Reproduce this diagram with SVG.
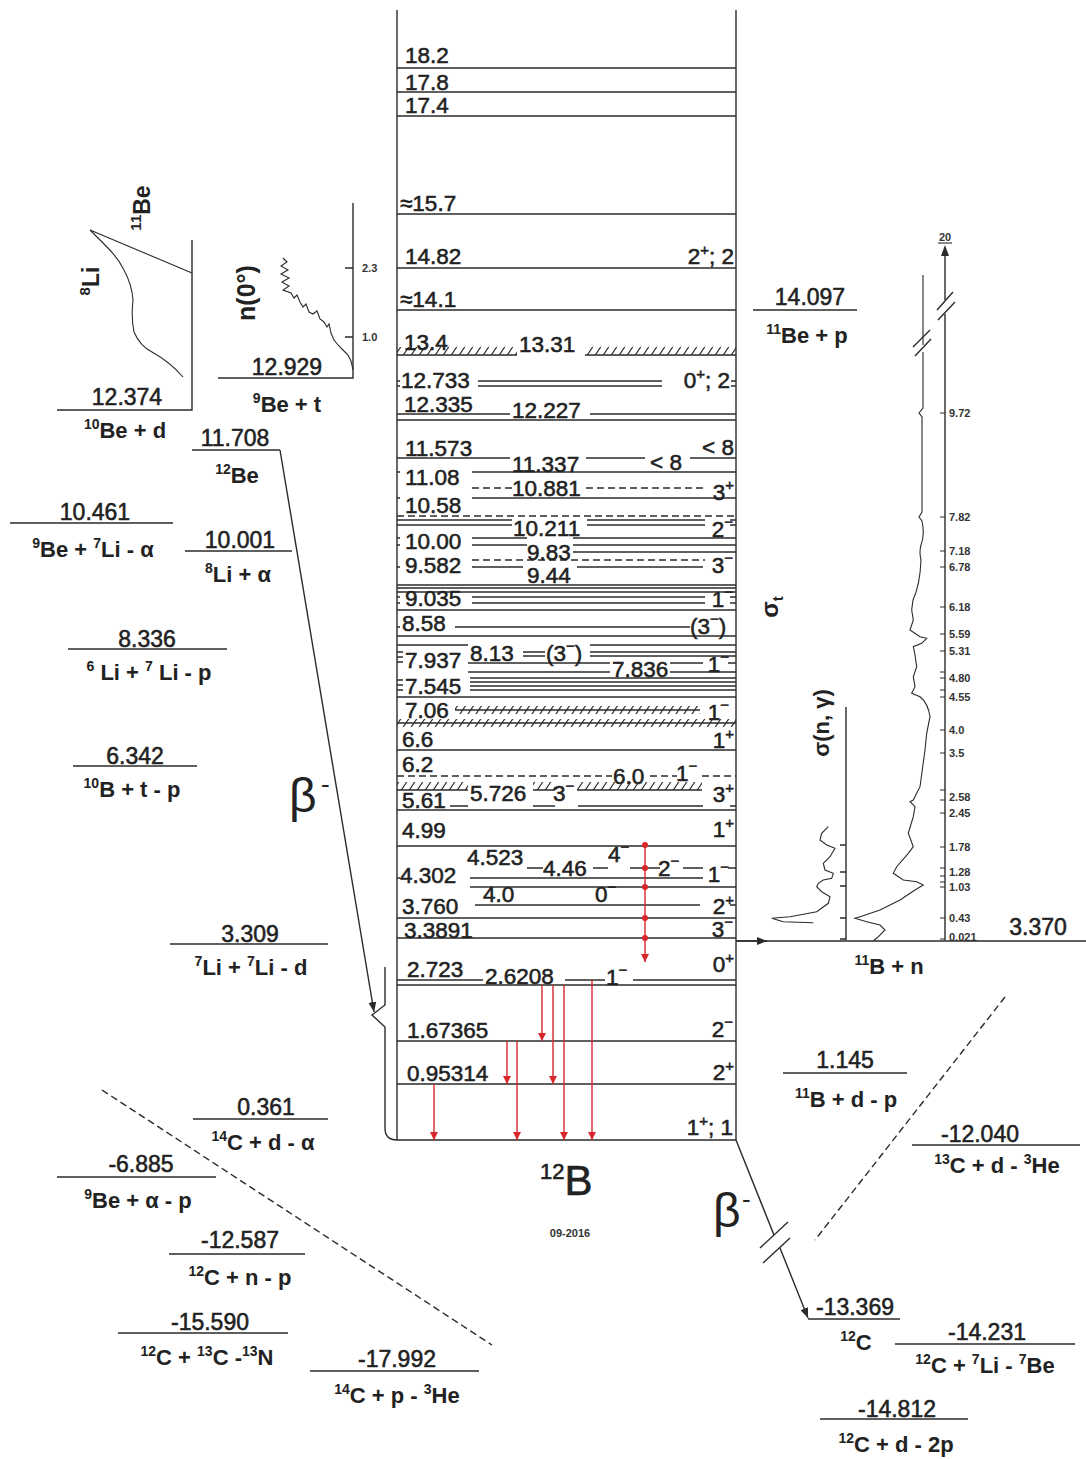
<svg xmlns="http://www.w3.org/2000/svg" width="1086" height="1459" viewBox="0 0 1086 1459">
<defs>
<style>
.ln{stroke:#2b2b2b;stroke-width:1.4;fill:none}
.th{stroke:#2b2b2b;stroke-width:1.1;fill:none}
.ds{stroke:#2b2b2b;stroke-width:1.4;fill:none;stroke-dasharray:7 4}
.lv{font-family:"Liberation Sans",Arial,sans-serif;font-size:22.5px;fill:#222;stroke:#222;stroke-width:0.55}
.sp{font-family:"Liberation Sans",Arial,sans-serif;font-size:22.5px;fill:#222;stroke:#222;stroke-width:0.55;text-anchor:end}
.rx{font-family:"Liberation Sans",Arial,sans-serif;font-size:22px;font-weight:bold;fill:#222;text-anchor:middle}
.nm{font-family:"Liberation Sans",Arial,sans-serif;font-size:23px;fill:#222;stroke:#222;stroke-width:0.55;text-anchor:middle}
.tk{font-family:"Liberation Sans",Arial,sans-serif;font-size:11px;font-weight:bold;fill:#333}
.ax{font-family:"Liberation Sans",Arial,sans-serif;font-weight:bold;fill:#222;text-anchor:middle}
.red{stroke:#d8262b;stroke-width:1.4;fill:none}
.hb{fill:url(#hatch)}
</style>
<pattern id="hatch" patternUnits="userSpaceOnUse" width="8" height="12"><path d="M0,12 L8,0 M-1,1.5 L1,-1.5 M7,13.5 L9,10.5" stroke="#2b2b2b" stroke-width="1.2"/></pattern>
<marker id="ra" viewBox="0 0 8 8" refX="8" refY="4" markerWidth="8" markerHeight="8" markerUnits="userSpaceOnUse" orient="auto"><path d="M0,0 L8,4 L0,8 z" fill="#d8262b"/></marker>
<marker id="ba" viewBox="0 0 10 8" refX="10" refY="4" markerWidth="10" markerHeight="8" markerUnits="userSpaceOnUse" orient="auto"><path d="M0,0 L10,4 L0,8 z" fill="#2b2b2b"/></marker>
</defs>
<rect width="1086" height="1459" fill="#ffffff"/>

<g id="column">
<path class="ln" d="M397,10 V1140 M736,10 V1140 M385,967 V1005 L372,1015 L385,1027 V1128 Q385,1140 397,1140 H736"/>
<path class="ln" d="M397,68H736 M397,92H736 M397,116H736 M397,214H736 M397,268H736 M397,310H736
M397,355H517 M585,355H736
M478,381H662 M478,386H662 M397,381H400 M397,386H400 M731,381H736 M731,386H736
M397,414H510 M590,414H736 M397,420H736
M397,458H510 M586,458H645 M690,458H736
M397,472H400 M472,472H736
M397,498H400 M472,498H736
M397,520H512 M587,520H705 M397,525H512 M587,525H705 M730,520H736 M730,525H736
M397,538H400 M472,538H527 M573,538H736 M397,545H400 M472,545H527 M573,545H736
M573,552H736
M397,567H400 M472,567H523 M577,567H703
M397,585H736 M397,588H736 M397,592H736
M397,597H400 M472,597H705 M397,603H400 M472,603H705 M730,597H736 M730,603H736
M397,610H736
M397,627H400 M455,627H690
M397,636H736
M397,645H468 M590,645H736
M523,652H545 M590,652H736 M523,656H545 M590,656H736
M397,652H403 M397,657H403 M397,662H403
M468,663H610 M670,663H703 M728,663H736
M468,672H610 M670,672H736
M470,678H736 M470,682H736 M470,686H736 M470,690H736 M397,680H403 M397,685H403 M397,690H403
M397,697H736
M455,710H700 M397,723H736
M397,750H736
M397,790H468 M533,790H555 M577,790H702
M450,806H468 M533,806H555 M578,806H703 M730,806H736
M397,810H736
M397,846H736
M527,868H543 M593,868H608 M630,868H660 M683,868H703 M728,868H736
M397,878H400 M470,878H703
M470,887H736
M475,905H700 M730,905H736
M397,918H736
M397,938H736
M397,980H483 M565,980H605 M633,980H736
M397,985H736
M397,1041H736 M397,1084H736"/>
<path class="ds" d="M472,488H512 M586,488H705 M397,516H736 M472,560H705 M397,776H612 M650,776H677 M702,776H736"/>
<rect class="hb" x="397" y="347" width="120" height="8"/>
<rect class="hb" x="585" y="347" width="151" height="8"/>
<rect class="hb" x="455" y="706" width="245" height="8"/>
<rect class="hb" x="397" y="719" width="339" height="8"/>
<rect class="hb" x="397" y="782" width="71" height="8"/>
<rect class="hb" x="533" y="782" width="22" height="8"/>
<rect class="hb" x="577" y="782" width="125" height="8"/>
</g>

<g id="level-labels">
<text class="lv" x="405" y="63">18.2</text>
<text class="lv" x="405" y="90">17.8</text>
<text class="lv" x="405" y="113">17.4</text>
<text class="lv" x="400" y="211">≈15.7</text>
<text class="lv" x="405" y="264">14.82</text>
<text class="sp" x="734" y="264">2<tspan font-size="15" dy="-9">+</tspan><tspan dy="9">;  2</tspan></text>
<text class="lv" x="400" y="307">≈14.1</text>
<text class="lv" x="404" y="350">13.4</text>
<text class="lv" x="519" y="352">13.31</text>
<text class="lv" x="401" y="388">12.733</text>
<text class="sp" x="730" y="388">0<tspan font-size="15" dy="-9">+</tspan><tspan dy="9">;  2</tspan></text>
<text class="lv" x="404" y="412">12.335</text>
<text class="lv" x="512" y="418">12.227</text>
<text class="lv" x="405" y="456">11.573</text>
<text class="lv" x="512" y="472">11.337</text>
<text class="lv" x="650" y="470">&lt; 8</text>
<text class="sp" x="734" y="455">&lt; 8</text>
<text class="lv" x="405" y="485">11.08</text>
<text class="lv" x="512" y="496">10.881</text>
<text class="sp" x="734" y="500">3<tspan font-size="15" dy="-10">+</tspan></text>
<text class="lv" x="405" y="513">10.58</text>
<text class="lv" x="513" y="536">10.211</text>
<text class="sp" x="733" y="537">2<tspan font-size="15" dy="-10">−</tspan></text>
<text class="lv" x="405" y="549">10.00</text>
<text class="lv" x="527" y="560">9.83</text>
<text class="lv" x="405" y="573">9.582</text>
<text class="lv" x="527" y="583">9.44</text>
<text class="sp" x="733" y="573">3<tspan font-size="15" dy="-10">−</tspan></text>
<text class="lv" x="405" y="606">9.035</text>
<text class="sp" x="733" y="607">1<tspan font-size="15" dy="-10">−</tspan></text>
<text class="lv" x="402" y="631">8.58</text>
<text class="lv" x="690" y="634">(3<tspan font-size="15" dy="-10">−</tspan><tspan dy="10">)</tspan></text>
<text class="lv" x="470" y="661">8.13</text>
<text class="lv" x="546" y="661">(3<tspan font-size="15" dy="-10">−</tspan><tspan dy="10">)</tspan></text>
<text class="lv" x="405" y="668">7.937</text>
<text class="lv" x="612" y="677">7.836</text>
<text class="sp" x="729" y="672">1<tspan font-size="15" dy="-10">−</tspan></text>
<text class="lv" x="405" y="694">7.545</text>
<text class="lv" x="405" y="718">7.06</text>
<text class="sp" x="729" y="720">1<tspan font-size="15" dy="-10">−</tspan></text>
<text class="lv" x="402" y="747">6.6</text>
<text class="sp" x="734" y="748">1<tspan font-size="15" dy="-9">+</tspan></text>
<text class="lv" x="402" y="772">6.2</text>
<text class="lv" x="613" y="784">6.0</text>
<text class="lv" x="676" y="781">1<tspan font-size="15" dy="-10">−</tspan></text>
<text class="lv" x="470" y="801">5.726</text>
<text class="lv" x="553" y="801">3<tspan font-size="15" dy="-10">−</tspan></text>
<text class="sp" x="734" y="802">3<tspan font-size="15" dy="-9">+</tspan></text>
<text class="lv" x="402" y="808">5.61</text>
<text class="lv" x="402" y="838">4.99</text>
<text class="sp" x="734" y="837">1<tspan font-size="15" dy="-9">+</tspan></text>
<text class="lv" x="467" y="865">4.523</text>
<text class="lv" x="543" y="876">4.46</text>
<text class="lv" x="608" y="862">4<tspan font-size="15" dy="-10">−</tspan></text>
<text class="lv" x="658" y="876">2<tspan font-size="15" dy="-10">−</tspan></text>
<text class="sp" x="729" y="882">1<tspan font-size="15" dy="-10">−</tspan></text>
<text class="lv" x="400" y="883">4.302</text>
<text class="lv" x="483" y="902">4.0</text>
<text class="lv" x="595" y="902">0<tspan font-size="15" dy="-10">−</tspan></text>
<text class="lv" x="402" y="914">3.760</text>
<text class="sp" x="734" y="914">2<tspan font-size="15" dy="-9">+</tspan></text>
<text class="lv" x="404" y="938">3.3891</text>
<text class="sp" x="733" y="937">3<tspan font-size="15" dy="-10">−</tspan></text>
<text class="lv" x="407" y="977">2.723</text>
<text class="lv" x="485" y="984">2.6208</text>
<text class="lv" x="606" y="985">1<tspan font-size="15" dy="-10">−</tspan></text>
<text class="sp" x="734" y="972">0<tspan font-size="15" dy="-9">+</tspan></text>
<text class="lv" x="407" y="1038">1.67365</text>
<text class="sp" x="733" y="1037">2<tspan font-size="15" dy="-10">−</tspan></text>
<text class="lv" x="407" y="1081">0.95314</text>
<text class="sp" x="734" y="1080">2<tspan font-size="15" dy="-9">+</tspan></text>
<text class="sp" x="733" y="1135">1<tspan font-size="15" dy="-9">+</tspan><tspan dy="9">;  1</tspan></text>
</g>

<g id="gamma-transitions">
<path class="red" d="M645,845 V962" marker-end="url(#ra)"/>
<g fill="#d8262b"><circle cx="645" cy="845" r="3"/><circle cx="645" cy="868" r="3"/><circle cx="645" cy="887" r="3"/><circle cx="645" cy="918" r="3"/><circle cx="645" cy="938" r="3"/></g>
<path class="red" d="M542,985 V1041" marker-end="url(#ra)"/>
<path class="red" d="M553,985 V1084" marker-end="url(#ra)"/>
<path class="red" d="M564,985 V1140" marker-end="url(#ra)"/>
<path class="red" d="M592,980 V1140" marker-end="url(#ra)"/>
<path class="red" d="M507,1041 V1084" marker-end="url(#ra)"/>
<path class="red" d="M517,1041 V1140" marker-end="url(#ra)"/>
<path class="red" d="M434,1084 V1140" marker-end="url(#ra)"/>
</g>

<g id="title">
<text x="540" y="1195" font-family="Liberation Sans, Arial, sans-serif" fill="#222" stroke="#222" stroke-width="0.6"><tspan font-size="22" dy="-16">12</tspan><tspan font-size="42" dy="16">B</tspan></text>
<text x="570" y="1237" text-anchor="middle" font-family="Liberation Sans, Arial, sans-serif" font-size="11" font-weight="bold" fill="#333">09-2016</text>
</g>

<g id="connectors">
<path class="ln" d="M280,450 L374,1012" marker-end="url(#ba)"/>
<path class="ln" d="M736,1140 L774,1235 M780,1248 L808,1318" marker-end="url(#ba)"/>
<path class="ln" d="M760,1248 L788,1222 M763,1263 L790,1238"/>
<path class="ds" d="M102,1090 L492,1345"/>
<path class="ds" d="M1005,997 L815,1240"/>
<path class="ln" d="M736,941 H767" marker-end="url(#ba)"/>
<text x="289" y="812" font-family="Liberation Sans, Arial, sans-serif" font-size="48" fill="#222">β</text>
<text x="321" y="793" font-family="Liberation Sans, Arial, sans-serif" font-size="26" fill="#222">-</text>
<text x="713" y="1227" font-family="Liberation Sans, Arial, sans-serif" font-size="48" fill="#222">β</text>
<text x="742" y="1208" font-family="Liberation Sans, Arial, sans-serif" font-size="26" fill="#222">-</text>
</g>

<g id="plot-10Be-d">
<path class="ln" d="M57,410 H192 V240"/>
<path class="th" d="M90,230 L192,273 M90,230 L107,247 Q118,258 124,270 Q132,285 133,300 Q131,318 134,332 Q140,346 152,352 Q170,362 183,377"/>
<text class="ax" style="font-size:23px" transform="translate(150,208) rotate(-90)"><tspan style="font-size:15px" dy="-9">11</tspan><tspan dy="9">Be</tspan></text>
<text class="ax" style="font-size:23px" transform="translate(99,281) rotate(-90)"><tspan style="font-size:15px" dy="-9">8</tspan><tspan dy="9">Li</tspan></text>
</g>

<g id="plot-9Be-t">
<path class="ln" d="M218,378 H353 V203 M345,268 H353 M345,337 H353"/>
<path class="th" d="M283,258 L287,262 L281,266 L288,270 L281,274 L289,278 L282,282 L289,286 L283,290 L291,293 L294,298 L297,295 L300,302 L303,307 L306,304 L309,312 L313,314 L317,311 L320,319 L324,322 L327,327 L329,324 L331,333 L334,340 L338,345 L343,350 L348,355 L351,361 L353,370"/>
<text class="tk" x="362" y="272">2.3</text>
<text class="tk" x="362" y="341">1.0</text>
<text class="ax" style="font-size:25px" transform="translate(255,293) rotate(-90)">n(0°)</text>
</g>

<g id="plot-11B-n">
<path class="ln" d="M945,256 V300 M945,314 V940"/>
<path d="M945,245 L941,256 L949,256 z" fill="#2b2b2b"/>
<path class="ln" d="M937,310 L953,292 M938,320 L955,302"/>
<text class="tk" x="945" y="241" text-anchor="middle">20</text>
<path class="th" d="M938,243 H952"/>
<path class="th" d="M923,275 V345 M923,352 V408 L919,413 L922,417 V512 L919,517 L922,521 Q925,535 921,545 Q919,552 921,560 Q920,585 913,600 L911.7,610 L913.3,620 L910,630 L920,636.7 L926.7,638.3 L921.7,643.3 L913.3,646.7 L915,655 L916.7,666.7 L913.3,676.7 L915,686.7 L911.7,693.3 L920,696.7 Q928,703 930,716.7 L926.7,733.3 L925,750 L922.7,766.7 L920,786.7 L913.3,800 L910,801.7 L915,806.7 L913.3,816.7 L908.3,833.3 L913.3,846.7 L908.3,853.3 L896.7,866.7 L893.3,873.3 L903.3,880 L916.7,881.7 L923.3,885 L915,890 L900,900 L880,910 L860,916.7 L855,918.3 L866.7,921.7 L880,925 L885,930 L876.7,938.3 L873.3,940.7"/>
<path class="ln" d="M913,347 L930,330 M915,356 L931,339"/>
<path class="th" d="M940,413H945 M940,517H945 M940,551H945 M940,567H945 M940,607H945 M940,634H945 M940,651H945 M940,672H945 M940,678H945 M940,690H945 M940,697H945 M940,730H945 M940,753H945 M940,790H945 M940,800H945 M940,813H945 M940,847H945 M940,868H945 M940,876H945 M940,882H945 M940,887H945 M940,918H945 M940,939H945"/>
<g class="tk">
<text x="949" y="417">9.72</text>
<text x="949" y="521">7.82</text>
<text x="949" y="555">7.18</text>
<text x="949" y="571">6.78</text>
<text x="949" y="611">6.18</text>
<text x="949" y="638">5.59</text>
<text x="949" y="655">5.31</text>
<text x="949" y="682">4.80</text>
<text x="949" y="701">4.55</text>
<text x="949" y="734">4.0</text>
<text x="949" y="757">3.5</text>
<text x="949" y="801">2.58</text>
<text x="949" y="817">2.45</text>
<text x="949" y="851">1.78</text>
<text x="949" y="876">1.28</text>
<text x="949" y="891">1.03</text>
<text x="949" y="922">0.43</text>
<text x="949" y="941">0.021</text>
</g>
<path class="ln" d="M846,707 V940 M840,845H846 M840,872H846 M840,886H846 M840,918H846 M840,939H846"/>
<path class="th" d="M828.3,826.7 L821.7,833.3 L820,840 L826.7,845 L835,848.3 L830,856.7 L823.3,863.3 L825,870 L833.3,873.3 L831.7,878.3 L823.3,880 L818.3,883.3 L816.7,886.7 L821.7,891.7 L830,896.7 L828.3,903.3 L816.7,911.7 L790,916.7 L771.7,918.3 L783.3,921.7 L813.3,922.7"/>
<text class="ax" style="font-size:22px" transform="translate(829,723) rotate(-90)">σ(n, γ)</text>
<text class="ax" style="font-size:24px" transform="translate(778,607) rotate(-90)">σ<tspan style="font-size:15px" dy="5">t</tspan></text>
</g>

<g id="reactions">
<path class="ln" d="M192,450 H280 M10,523 H173 M185,551 H292 M68,649 H227 M73,766 H197 M170,944 H328 M193,1119 H328 M57,1177 H216 M169,1254 H305 M118,1333 H288 M310,1371 H479 M753,310 H857 M736,941 H1086 M783,1073 H907 M912,1145 H1080 M808,1319 H900 M895,1344 H1075 M820,1419 H968"/>
<text class="nm" x="127" y="405">12.374</text>
<text class="rx" x="125" y="438"><tspan font-size="14" dy="-9">10</tspan><tspan dy="9">Be +  d</tspan></text>
<text class="nm" x="287" y="375">12.929</text>
<text class="rx" x="287" y="412"><tspan font-size="14" dy="-9">9</tspan><tspan dy="9">Be +  t</tspan></text>
<text class="nm" x="235" y="446">11.708</text>
<text class="rx" x="237" y="483"><tspan font-size="14" dy="-9">12</tspan><tspan dy="9">Be</tspan></text>
<text class="nm" x="95" y="520">10.461</text>
<text class="rx" x="93" y="557"><tspan font-size="14" dy="-9">9</tspan><tspan dy="9">Be + </tspan><tspan font-size="14" dy="-9">7</tspan><tspan dy="9">Li - α</tspan></text>
<text class="nm" x="240" y="548">10.001</text>
<text class="rx" x="238" y="582"><tspan font-size="14" dy="-9">8</tspan><tspan dy="9">Li + α</tspan></text>
<text class="nm" x="147" y="647">8.336</text>
<text class="rx" x="149" y="680"><tspan font-size="14" dy="-9">6</tspan><tspan dy="9"> Li + </tspan><tspan font-size="14" dy="-9">7</tspan><tspan dy="9"> Li - p</tspan></text>
<text class="nm" x="135" y="764">6.342</text>
<text class="rx" x="132" y="797"><tspan font-size="14" dy="-9">10</tspan><tspan dy="9">B + t - p</tspan></text>
<text class="nm" x="250" y="942">3.309</text>
<text class="rx" x="251" y="975"><tspan font-size="14" dy="-9">7</tspan><tspan dy="9">Li + </tspan><tspan font-size="14" dy="-9">7</tspan><tspan dy="9">Li - d</tspan></text>
<text class="nm" x="266" y="1115">0.361</text>
<text class="rx" x="263" y="1150"><tspan font-size="14" dy="-9">14</tspan><tspan dy="9">C + d - α</tspan></text>
<text class="nm" x="141" y="1172">-6.885</text>
<text class="rx" x="138" y="1208"><tspan font-size="14" dy="-9">9</tspan><tspan dy="9">Be + α - p</tspan></text>
<text class="nm" x="240" y="1248">-12.587</text>
<text class="rx" x="240" y="1285"><tspan font-size="14" dy="-9">12</tspan><tspan dy="9">C + n - p</tspan></text>
<text class="nm" x="210" y="1330">-15.590</text>
<text class="rx" x="207" y="1365"><tspan font-size="14" dy="-9">12</tspan><tspan dy="9">C + </tspan><tspan font-size="14" dy="-9">13</tspan><tspan dy="9">C -</tspan><tspan font-size="14" dy="-9">13</tspan><tspan dy="9">N</tspan></text>
<text class="nm" x="397" y="1367">-17.992</text>
<text class="rx" x="397" y="1403"><tspan font-size="14" dy="-9">14</tspan><tspan dy="9">C + p - </tspan><tspan font-size="14" dy="-9">3</tspan><tspan dy="9">He</tspan></text>
<text class="nm" x="810" y="305">14.097</text>
<text class="rx" x="807" y="343"><tspan font-size="14" dy="-9">11</tspan><tspan dy="9">Be + p</tspan></text>
<text class="nm" x="1038" y="935">3.370</text>
<text class="rx" x="889" y="974"><tspan font-size="14" dy="-9">11</tspan><tspan dy="9">B + n</tspan></text>
<text class="nm" x="845" y="1068">1.145</text>
<text class="rx" x="846" y="1107"><tspan font-size="14" dy="-9">11</tspan><tspan dy="9">B + d - p</tspan></text>
<text class="nm" x="980" y="1142">-12.040</text>
<text class="rx" x="997" y="1173"><tspan font-size="14" dy="-9">13</tspan><tspan dy="9">C +  d - </tspan><tspan font-size="14" dy="-9">3</tspan><tspan dy="9">He</tspan></text>
<text class="nm" x="855" y="1315">-13.369</text>
<text class="rx" x="856" y="1350"><tspan font-size="14" dy="-9">12</tspan><tspan dy="9">C</tspan></text>
<text class="nm" x="987" y="1340">-14.231</text>
<text class="rx" x="985" y="1373"><tspan font-size="14" dy="-9">12</tspan><tspan dy="9">C + </tspan><tspan font-size="14" dy="-9">7</tspan><tspan dy="9">Li - </tspan><tspan font-size="14" dy="-9">7</tspan><tspan dy="9">Be</tspan></text>
<text class="nm" x="897" y="1417">-14.812</text>
<text class="rx" x="896" y="1452"><tspan font-size="14" dy="-9">12</tspan><tspan dy="9">C + d - 2p</tspan></text>
</g>
</svg>
